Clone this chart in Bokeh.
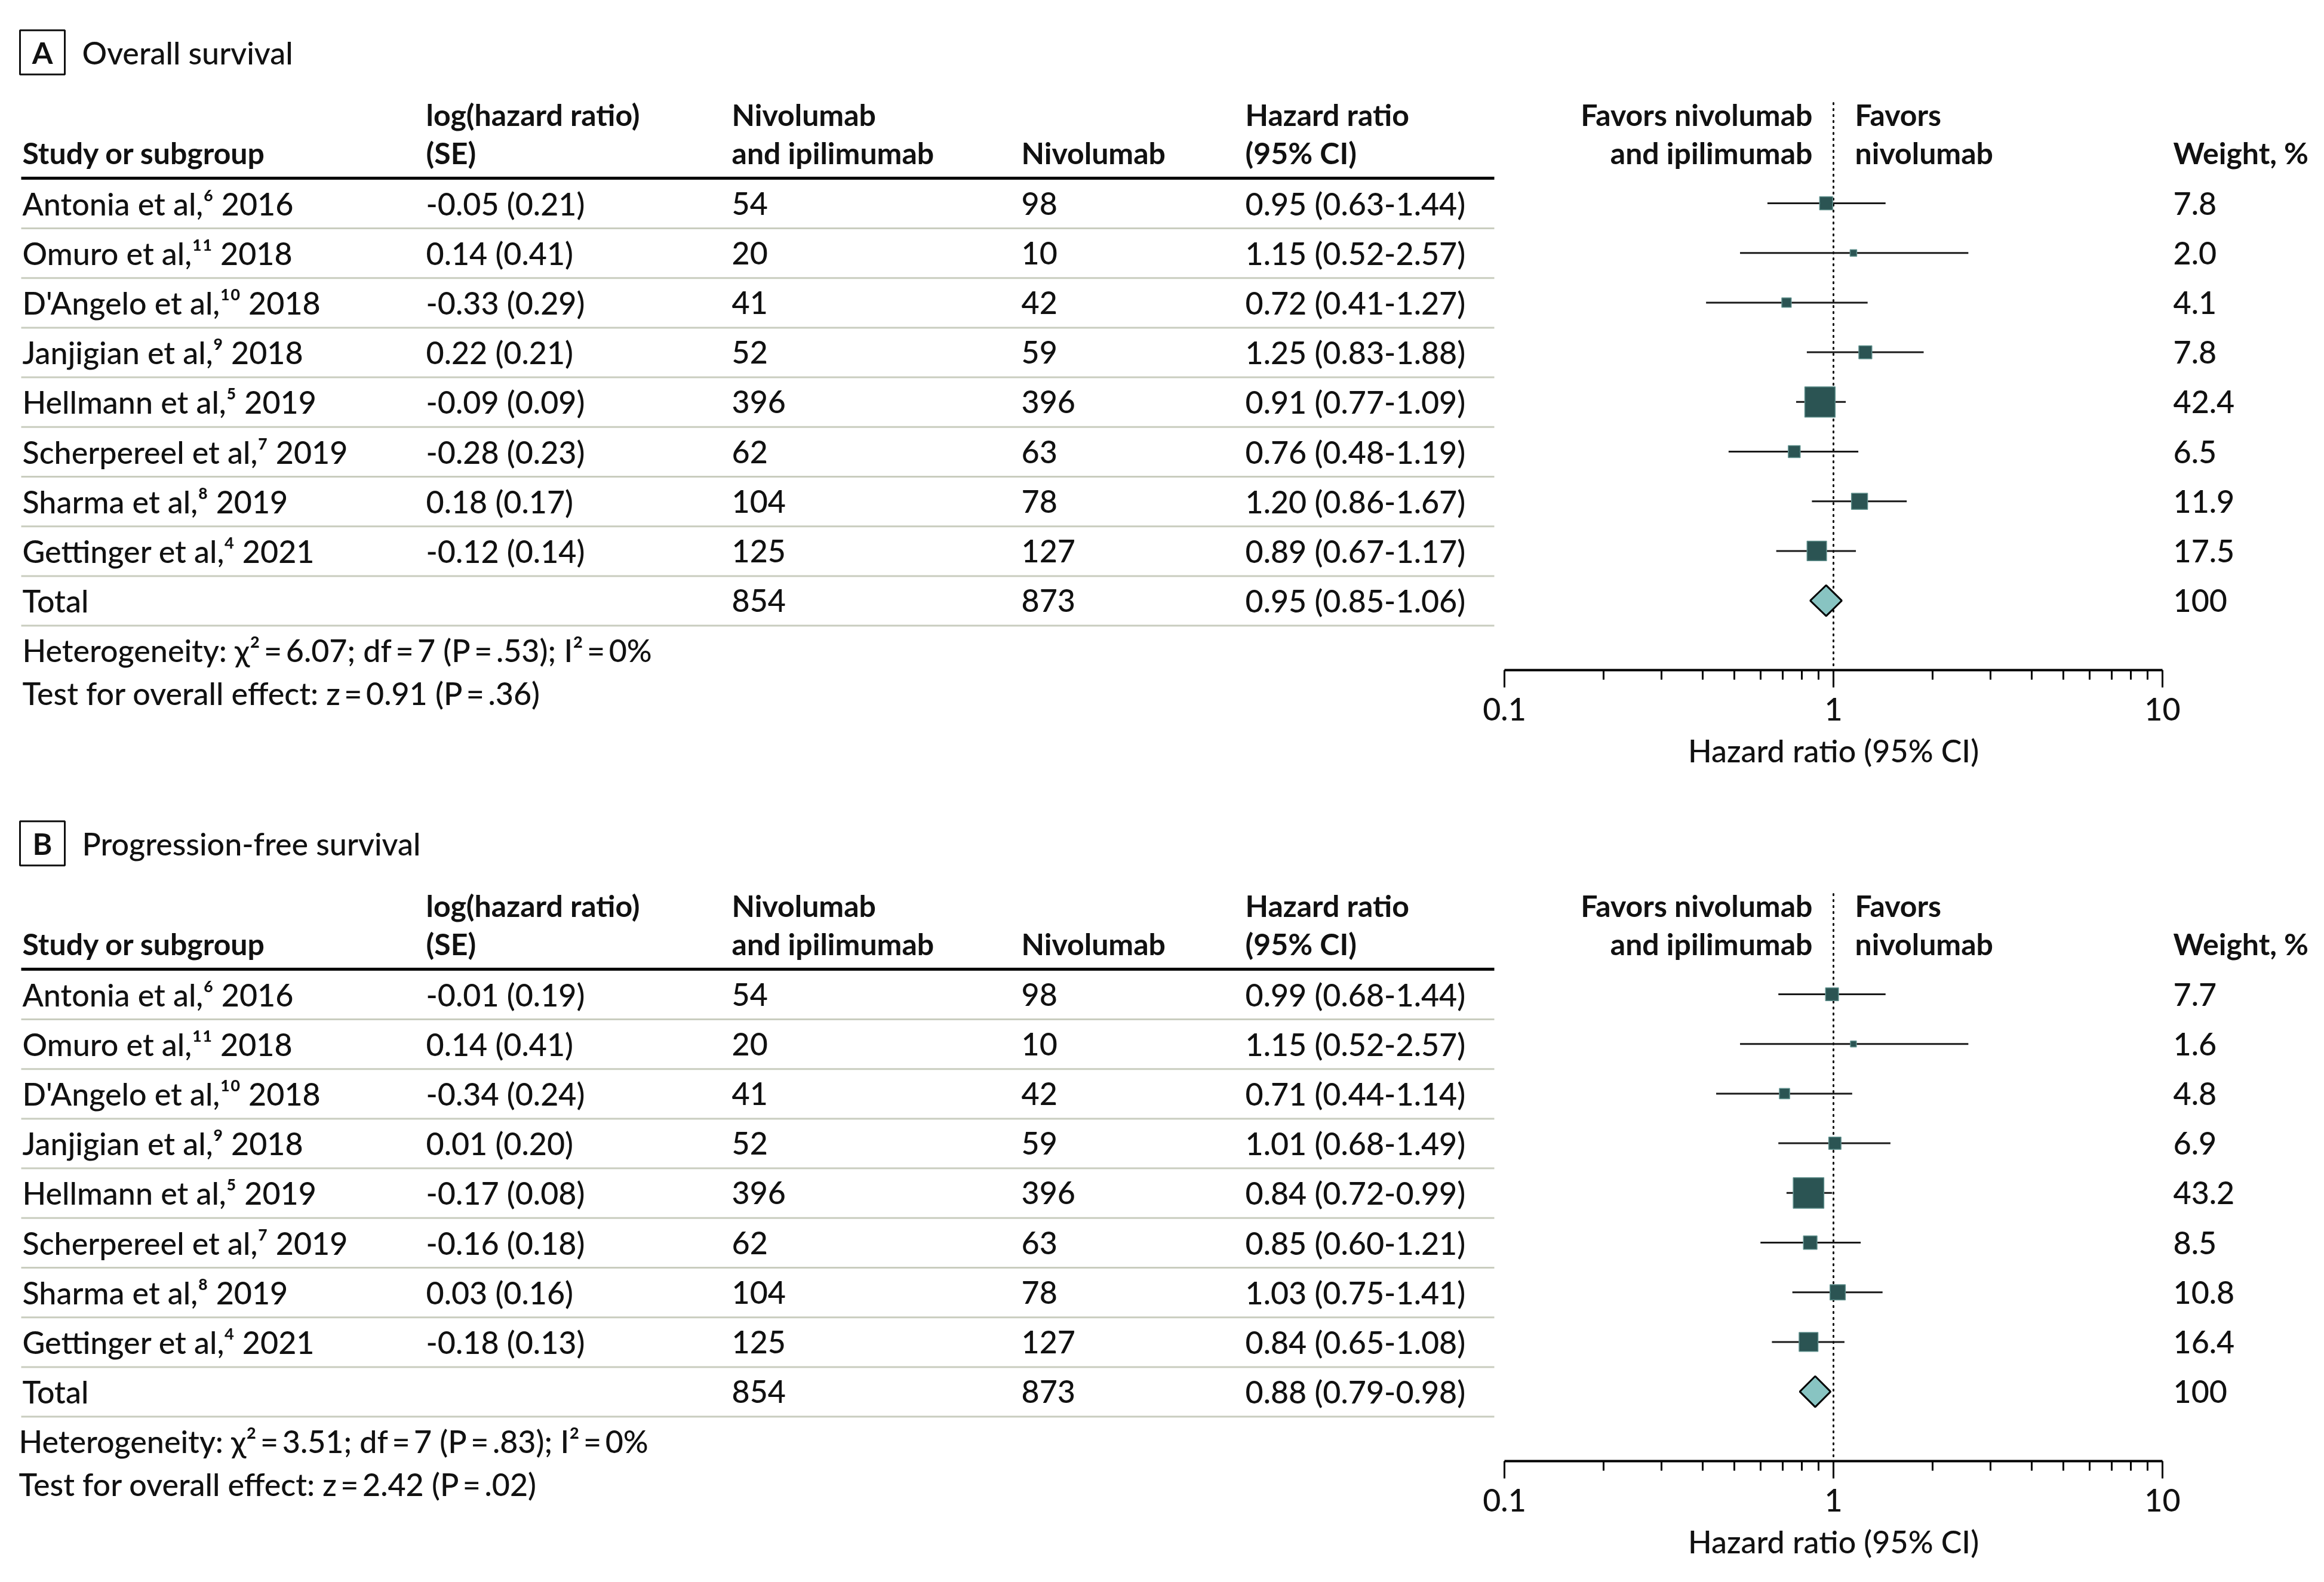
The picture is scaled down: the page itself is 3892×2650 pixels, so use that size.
import math
from bokeh.plotting import figure
from bokeh.models import (Range1d, LogScale, LogAxis, FixedTicker, CustomJSTickFormatter,
                          ColumnDataSource)
from bokeh.layouts import column
from bokeh.embed import file_html
from bokeh.resources import INLINE
from bokeh.core.properties import value

# ---------------- data ----------------
STUDIES = ["Antonia et al,\u2076 2016", "Omuro et al,\u00b9\u00b9 2018", "D'Angelo et al,\u00b9\u2070 2018",
           "Janjigian et al,\u2079 2018", "Hellmann et al,\u2075 2019", "Scherpereel et al,\u2077 2019",
           "Sharma et al,\u2078 2019", "Gettinger et al,\u2074 2021"]
N_COMBO = [54, 20, 41, 52, 396, 62, 104, 125]
N_NIVO = [98, 10, 42, 59, 396, 63, 78, 127]
TOTAL_N = [854, 873]

# Panel A: overall survival
OS_LOGHR = [-0.05, 0.14, -0.33, 0.22, -0.09, -0.28, 0.18, -0.12]
OS_SE = [0.21, 0.41, 0.29, 0.21, 0.09, 0.23, 0.17, 0.14]
OS_HR = [0.95, 1.15, 0.72, 1.25, 0.91, 0.76, 1.20, 0.89]
OS_LO = [0.63, 0.52, 0.41, 0.83, 0.77, 0.48, 0.86, 0.67]
OS_HI = [1.44, 2.57, 1.27, 1.88, 1.09, 1.19, 1.67, 1.17]
OS_W = [7.8, 2.0, 4.1, 7.8, 42.4, 6.5, 11.9, 17.5]
OS_TOTAL = [0.95, 0.85, 1.06]
OS_HET = "Heterogeneity: \u03c7\u00b2\u2009=\u20096.07; df\u2009=\u20097 (P\u2009=\u2009.53); I\u00b2\u2009=\u20090%"
OS_TEST = "Test for overall effect: z\u2009=\u20090.91 (P\u2009=\u2009.36)"

# Panel B: progression-free survival
PFS_LOGHR = [-0.01, 0.14, -0.34, 0.01, -0.17, -0.16, 0.03, -0.18]
PFS_SE = [0.19, 0.41, 0.24, 0.20, 0.08, 0.18, 0.16, 0.13]
PFS_HR = [0.99, 1.15, 0.71, 1.01, 0.84, 0.85, 1.03, 0.84]
PFS_LO = [0.68, 0.52, 0.44, 0.68, 0.72, 0.60, 0.75, 0.65]
PFS_HI = [1.44, 2.57, 1.14, 1.49, 0.99, 1.21, 1.41, 1.08]
PFS_W = [7.7, 1.6, 4.8, 6.9, 43.2, 8.5, 10.8, 16.4]
PFS_TOTAL = [0.88, 0.79, 0.98]
PFS_HET = "Heterogeneity: \u03c7\u00b2\u2009=\u20093.51; df\u2009=\u20097 (P\u2009=\u2009.83); I\u00b2\u2009=\u20090%"
PFS_TEST = "Test for overall effect: z\u2009=\u20092.42 (P\u2009=\u2009.02)"

AXIS_TICKS = [0.1, 1, 10]
AXIS_MINOR = [0.2, 0.3, 0.4, 0.5, 0.6, 0.7, 0.8, 0.9, 2, 3, 4, 5, 6, 7, 8, 9]
AXIS_TITLE = "Hazard ratio (95% CI)"

# ---------------- layout constants ----------------
FONT_REG = "'Lato Medium', Lato"
FONT_BOLD = "Lato"
FS_REG = "52px"
FS_BOLD = "50px"
W = 3892
ROW = 83.2           # px per row
PAD_TOP = 340        # px from panel top to first study row
AXIS_Y = 1122        # px from panel top to axis line
TITLE_Y = 1256       # px from panel top to axis title
X_01 = 2519          # page x of HR = 0.1
X_10 = 3621          # page x of HR = 10
COL_X = [37, 713, 1225, 1710, 2085]
SEP_X = [35, 2502]
FAV_L_X = 3035
FAV_R_X = 3106
WEIGHT_X = 3639
TXT = "#111111"

SQ = "#2b5453"
SQ_EDGE = "#5f8f8c"
DIAMOND = "#88c4c2"
SEP = "#c9cdbf"


def lg(px):
    # page x -> hazard ratio on the log axis
    return 10 ** (-1 + 2 * (px - X_01) / (X_10 - X_01))


def tf(bold=False):
    return dict(text_font=value(FONT_BOLD if bold else FONT_REG),
                text_font_size=value(FS_BOLD if bold else FS_REG),
                text_font_style="bold" if bold else "normal",
                text_baseline="middle", text_color=TXT)


def make_panel(letter, title, loghr, se, hr, lo, hi, wts, total, het, test, height, foot_x):
    top = -PAD_TOP / ROW
    bottom = (AXIS_Y - PAD_TOP) / ROW
    p = figure(width=W, height=height, x_range=Range1d(0, W), y_range=Range1d(bottom, top),
               x_axis_type=None, y_axis_type=None, toolbar_location=None,
               output_backend="svg", min_border_left=0, min_border_right=0,
               min_border_top=0, min_border_bottom=height - AXIS_Y,
               outline_line_color=None, background_fill_color="white",
               border_fill_color="white")
    p.extra_x_ranges = {"hr": Range1d(lg(0), lg(W))}
    p.extra_x_scales = {"hr": LogScale()}

    n = len(hr)
    rows = list(range(n))
    h1, h2 = -1.79, -1.01

    # panel title
    ty = top + 1.05
    p.rect(x=[70.5], y=[ty], width=75, height=74, width_units="screen", height_units="screen",
           fill_color=None, line_color=TXT, line_width=3)
    p.text(x=[70.5], y=[ty], text=[letter], text_align="center", **tf(True))
    p.text(x=[137], y=[ty], text=[title], text_align="left", **tf())

    # header
    hdr = ColumnDataSource(dict(
        x=[COL_X[0], COL_X[1], COL_X[1], COL_X[2], COL_X[2], COL_X[3], COL_X[4], COL_X[4], FAV_R_X, FAV_R_X,
           WEIGHT_X],
        y=[h2, h1, h2, h1, h2, h2, h1, h2, h1, h2, h2],
        t=["Study or subgroup", "log(hazard ratio)", "(SE)", "Nivolumab", "and ipilimumab",
           "Nivolumab", "Hazard ratio", "(95% CI)", "Favors", "nivolumab", "Weight, %"]))
    p.text(x="x", y="y", text="t", source=hdr, text_align="left", **tf(True))
    p.text(x=[FAV_L_X] * 2, y=[h1, h2], text=["Favors nivolumab", "and ipilimumab"],
           text_align="right", **tf(True))

    # rules
    p.segment(x0=[SEP_X[0]], x1=[SEP_X[1]], y0=[-0.505], y1=[-0.505], line_color="#000000", line_width=5)
    seps = [i + 0.505 for i in range(n + 1)]
    p.segment(x0=[SEP_X[0]] * len(seps), x1=[SEP_X[1]] * len(seps), y0=seps, y1=seps,
              line_color=SEP, line_width=3)

    # table rows
    tab = ColumnDataSource(dict(
        y=rows + [n],
        study=STUDIES + ["Total"],
        lse=[f"{a:.2f} ({b:.2f})" for a, b in zip(loghr, se)] + [""],
        n1=[str(v) for v in N_COMBO + [TOTAL_N[0]]],
        n2=[str(v) for v in N_NIVO + [TOTAL_N[1]]],
        hrt=[f"{a:.2f} ({b:.2f}-{c:.2f})" for a, b, c in zip(hr, lo, hi)]
            + [f"{total[0]:.2f} ({total[1]:.2f}-{total[2]:.2f})"],
        wt=[f"{v:.1f}" for v in wts] + ["100"],
    ))
    for cx, col in zip(COL_X + [WEIGHT_X], ["study", "lse", "n1", "n2", "hrt", "wt"]):
        p.text(x=cx, y="y", text=col, source=tab, text_align="left", **tf())
    p.text(x=[foot_x], y=[n + 1.0], text=[het], text_align="left", **tf())

    # forest
    p.segment(x0=[1], x1=[1], y0=[-2.02], y1=[bottom], x_range_name="hr",
              line_color="#000000", line_width=3, line_dash="2 8", line_cap="round")
    fs = ColumnDataSource(dict(y=rows, hr=hr, lo=lo, hi=hi,
                               size=[7.8 * math.sqrt(v) for v in wts]))
    p.segment(x0="lo", x1="hi", y0="y", y1="y", source=fs, x_range_name="hr",
              line_color="#1a1a1a", line_width=3)
    p.scatter(x="hr", y="y", size="size", source=fs, marker="square", x_range_name="hr",
              fill_color=SQ, line_color=SQ_EDGE, line_width=1.5)
    dh = 0.31
    p.patch(x=[total[1], total[0], total[2], total[0]], y=[n, n - dh, n, n + dh], x_range_name="hr",
            fill_color=DIAMOND, line_color="#000000", line_width=3)

    # axis
    ax = LogAxis(x_range_name="hr", ticker=FixedTicker(ticks=AXIS_TICKS, minor_ticks=AXIS_MINOR),
                 formatter=CustomJSTickFormatter(code="return tick.toString()"),
                 bounds=(AXIS_TICKS[0], AXIS_TICKS[-1]))
    ax.axis_line_width = 4
    ax.axis_line_color = "#000000"
    ax.major_tick_line_width = 3
    ax.minor_tick_line_width = 3
    ax.major_tick_out = 29
    ax.major_tick_in = 0
    ax.minor_tick_out = 16
    ax.minor_tick_in = 0
    ax.major_label_text_font = FONT_REG
    ax.major_label_text_font_size = FS_REG
    ax.major_label_text_color = TXT
    ax.major_label_standoff = 17
    p.add_layout(ax, "below")

    # texts below the axis line (overlay level so they are not clipped to the frame)
    p.text(x=[foot_x], y=[n + 1.86], text=[test], text_align="left", level="overlay", **tf())
    p.text(x=[1], y=[(TITLE_Y - PAD_TOP) / ROW], text=[AXIS_TITLE], x_range_name="hr",
           text_align="center", level="overlay", **tf())
    return p


pa = make_panel("A", "Overall survival", OS_LOGHR, OS_SE, OS_HR, OS_LO, OS_HI, OS_W, OS_TOTAL,
                OS_HET, OS_TEST, 1325, 37)
pb = make_panel("B", "Progression-free survival", PFS_LOGHR, PFS_SE, PFS_HR, PFS_LO, PFS_HI, PFS_W,
                PFS_TOTAL, PFS_HET, PFS_TEST, 1318, 31)

layout = column(pa, pb, spacing=0)
open("out.html", "w").write(file_html(layout, INLINE))
